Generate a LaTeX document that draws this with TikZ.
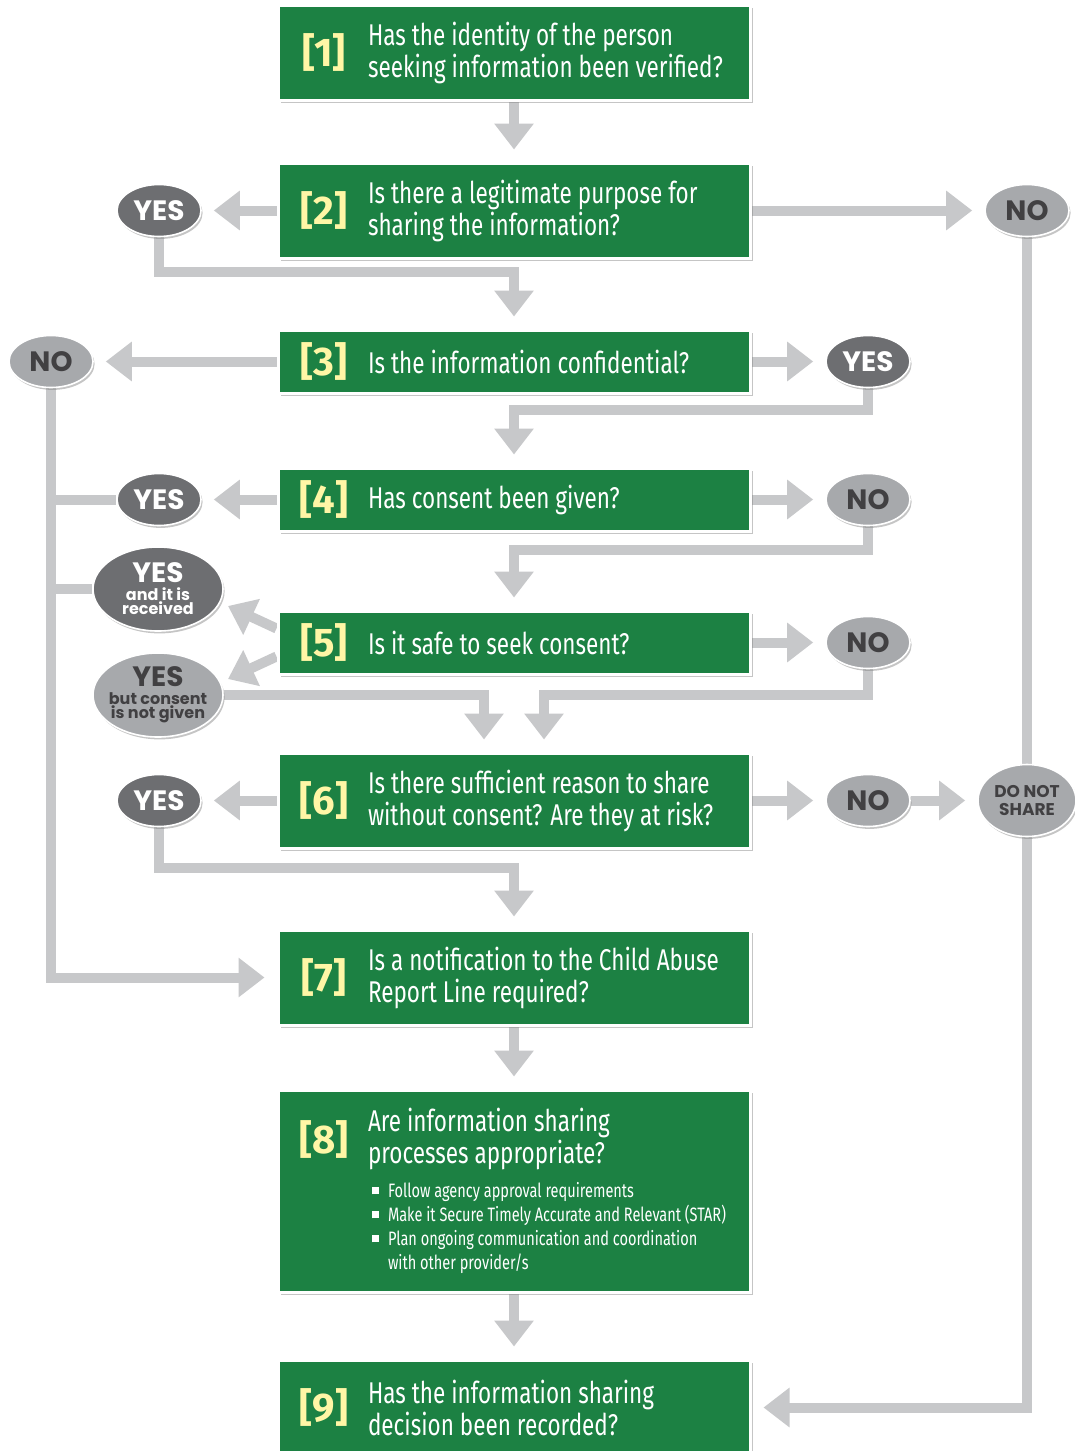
\documentclass[tikz,border=0pt]{standalone}
\usepackage{fontspec}
\newfontfamily\qfont[FakeStretch=0.75]{Fira Sans}
\newfontfamily\numfont{Fira Sans}
\newfontfamily\ovfont{Poppins}
\usetikzlibrary{arrows.meta,shadows,backgrounds,shapes.geometric}

\definecolor{boxgreen}{HTML}{1C8143}
\definecolor{numyellow}{HTML}{FFF6A6}
\definecolor{linegrey}{HTML}{C7C8CA}
\definecolor{ovaldark}{HTML}{6D6E71}
\definecolor{ovallight}{HTML}{A7A9AC}
\definecolor{ovaltext}{HTML}{414042}

% number + question text inside a green box
\newcommand{\qtext}[2]{\parbox{44pt}{\centering\numfont\bfseries\fontsize{20}{22}\selectfont\color{numyellow}#1}%
  \parbox{190pt}{\raggedright\qfont\fontsize{15}{16}\selectfont #2}}
\newcommand{\bulletitem}[1]{\makebox[8pt][l]{\rule[1.5pt]{3.5pt}{3.5pt}}\parbox[t]{180pt}{\raggedright #1}\par}
\newcommand{\ovsmall}{\fontsize{8}{7}\selectfont}

\tikzset{
  qbox/.style={draw=white, line width=1.5pt, fill=boxgreen, text=white, minimum width=236pt,
    inner sep=0pt, drop shadow={opacity=0.45, shadow xshift=1.5pt, shadow yshift=-1.5pt}},
  oval/.style={ellipse, draw=white, line width=0.8pt, inner sep=0pt, align=center,
    font=\ovfont\bfseries\fontsize{14}{14}\selectfont,
    drop shadow={opacity=0.45, shadow xshift=0.8pt, shadow yshift=-1.2pt}},
  yesoval/.style={oval, fill=ovaldark, text=white, minimum width=42pt, minimum height=26pt},
  nooval/.style={oval, fill=ovallight, text=ovaltext, minimum width=42pt, minimum height=26pt},
  bigoval/.style={minimum width=65pt, minimum height=42pt, inner xsep=-5pt},
  conn/.style={draw=linegrey, line width=5pt},
  arr/.style={conn, -{Triangle[length=13pt,width=19pt]}, shorten >=6pt},
}

\begin{document}
\begin{tikzpicture}[x=0.5pt,y=-0.5pt]
  \useasboundingbox (0,0) rectangle (1075,1451);

  % question boxes
  \node[qbox, minimum height=47.5pt] (b1) at (514,52.5) {\qtext{[1]}{Has the identity of the person\\seeking information been verified?}};
  \node[qbox, minimum height=47.5pt] (b2) at (514,210.5) {\qtext{[2]}{Is there a legitimate purpose for\\sharing the information?}};
  \node[qbox, minimum height=31.5pt] (b3) at (514,361.5) {\qtext{[3]}{Is the information confidential?}};
  \node[qbox, minimum height=31.5pt] (b4) at (514,499.5) {\qtext{[4]}{Has consent been given?}};
  \node[qbox, minimum height=31.5pt] (b5) at (514,642.5) {\qtext{[5]}{Is it safe to seek consent?}};
  \node[qbox, minimum height=47.5pt] (b6) at (514,800.5) {\qtext{[6]}{Is there sufficient reason to share\\without consent? Are they at risk?}};
  \node[qbox, minimum height=47.5pt] (b7) at (514,977.5) {\qtext{[7]}{Is a notification to the Child Abuse\\Report Line required?}};
  \node[qbox, minimum height=101pt] (b8) at (514,1191) {\begin{minipage}{234pt}
      \qtext{[8]}{Are information sharing\\processes appropriate?}\par\vspace{5pt}
      {\hspace*{46pt}\parbox{188pt}{\qfont\fontsize{9.7}{12}\selectfont
        \bulletitem{Follow agency approval requirements}
        \bulletitem{Make it Secure Timely Accurate and Relevant (STAR)}
        \bulletitem{Plan ongoing communication and coordination\\with other provider/s}}}
    \end{minipage}};
  \node[qbox, minimum height=47.5pt] (b9) at (514,1407.5) {\qtext{[9]}{Has the information sharing\\decision been recorded?}};

  % answer ovals
  \node[yesoval] (y2) at (159,210.5) {YES};
  \node[nooval] (n2) at (1027,210.5) {NO};
  \node[nooval] (n3) at (51,361.5) {NO};
  \node[yesoval] (y3) at (868,361.5) {YES};
  \node[yesoval] (y4) at (159,499.5) {YES};
  \node[nooval] (n4) at (868,499.5) {NO};
  \node[yesoval, bigoval] (y5a) at (158,589) {YES\\[-5pt]{\ovsmall and it is}\\[-7pt]{\ovsmall received}};
  \node[nooval, bigoval] (y5b) at (158,695) {YES\\[-5pt]{\ovsmall but consent}\\[-7pt]{\ovsmall is not given}};
  \node[nooval] (n5) at (868,642.5) {NO};
  \node[yesoval] (y6) at (159,800.5) {YES};
  \node[nooval] (n6) at (868,800.5) {NO};
  \node[nooval, minimum width=49pt, minimum height=36pt, font=\ovfont\bfseries\fontsize{8.5}{9}\selectfont] (dns) at (1027,800.5) {DO NOT\\SHARE};

  % bend points
  \coordinate (j2) at (514,272);
  \coordinate (j3) at (514,410);
  \coordinate (j4) at (514,550);
  \coordinate (j5) at (544,695);
  \coordinate (j6) at (514,868);
  \coordinate (t5a) at (228,606);
  \coordinate (t5b) at (228,679);

  \begin{scope}[on background layer]
    \fill[white] (0,0) rectangle (1075,1451);
    \draw[arr] (b1) -- (b2);
    \draw[arr] (b2) -- (y2);
    \draw[arr] (b2) -- (n2);
    \draw[arr] (y2) |- (j2) -- (b3);
    \draw[arr] (n2) |- (b9);
    \draw[arr] (b3) -- (n3);
    \draw[arr] (b3) -- (y3);
    \draw[arr] (y3) |- (j3) -- (b4);
    \draw[arr] (n3) |- (b7);
    \draw[conn] (y4) -- (y4 -| n3);
    \draw[conn] (y5a) -- (y5a -| n3);
    \draw[arr] (b4) -- (y4);
    \draw[arr] (b4) -- (n4);
    \draw[arr] (n4) |- (j4) -- (b5);
    \draw[arr, shorten >=0pt] ([yshift=7pt]b5.west) -- (t5a);
    \draw[arr, shorten >=0pt] ([yshift=-7pt]b5.west) -- (t5b);
    \draw[arr] (b5) -- (n5);
    \draw[arr] (y5b) -| ([xshift=-15pt]b6.north);
    \draw[arr] (n5) |- (j5) -- ([xshift=15pt]b6.north);
    \draw[arr] (b6) -- (y6);
    \draw[arr] (b6) -- (n6);
    \draw[arr] (n6) -- (dns);
    \draw[arr] (y6) |- (j6) -- (b7);
    \draw[arr] (b7) -- (b8);
    \draw[arr] (b8) -- (b9);
  \end{scope}
\end{tikzpicture}
\end{document}
